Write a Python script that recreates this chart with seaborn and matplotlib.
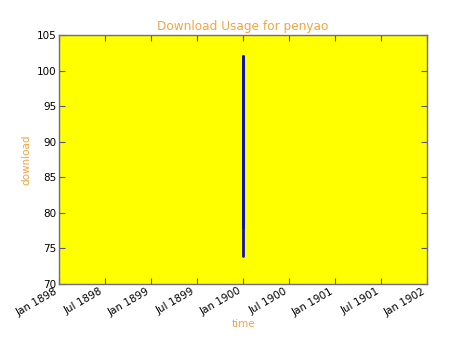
import matplotlib
matplotlib.use("Agg")
import matplotlib.pyplot as plt
import matplotlib.dates as mdates
import seaborn as sns
import pandas as pd
import numpy as np

# Data: all samples parse to the same date (time-only stamps -> 1900-01-01)
times = ["1900-01-01"] * 6
download = [74, 82, 95, 102, 88, 78]

df = pd.DataFrame({"time": pd.to_datetime(times), "download": download})

sns.set_style("ticks")
plt.rcParams['font.family'] = ['DejaVu Sans']

fig = plt.figure(figsize=(4.74, 3.55), dpi=100)
ax = fig.add_axes([0.1245, 0.2, 0.7765, 0.701])
ax.set_facecolor("yellow")

sns.lineplot(data=df, x="time", y="download", estimator=None, sort=False,
             color="#1212b0", linewidth=2, ax=ax)

ax.set_xlim(pd.Timestamp("1898-01-01"), pd.Timestamp("1902-01-01"))
ax.set_ylim(70, 105)
ax.xaxis.set_major_locator(mdates.MonthLocator(bymonth=[1, 7]))
ax.xaxis.set_major_formatter(mdates.DateFormatter("%b %Y"))
ax.yaxis.set_major_locator(matplotlib.ticker.MultipleLocator(5))

spine_col = "#6f6a9a"
for s in ax.spines.values():
    s.set_visible(True)
    s.set_color(spine_col)
    s.set_linewidth(1.0)

ax.tick_params(direction="in", top=True, right=True, length=4, width=0.8,
               colors="#555577", labelcolor="black", labelsize=7.5)
ax.tick_params(axis="y", pad=2)
ax.tick_params(axis="x", pad=1.5)
for lab in ax.get_xticklabels():
    lab.set_rotation(30)
    lab.set_ha("right")

orange = "#f4a340"
ax.set_title("Download Usage for penyao", color=orange, fontsize=8.7, pad=4)
ax.set_xlabel("time", color=orange, fontsize=7.5, labelpad=1)
ax.set_ylabel("download", color=orange, fontsize=7.5, labelpad=4)

fig.savefig("out.png", dpi=100)
